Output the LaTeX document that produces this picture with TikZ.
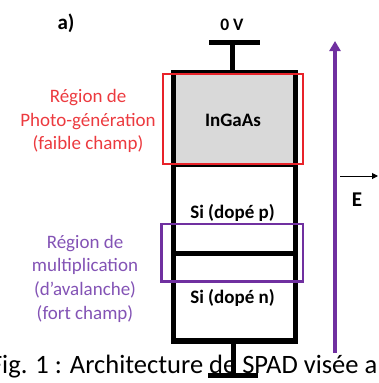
\documentclass[tikz,border=0pt]{standalone}
\usepackage{fontspec}
\setmainfont{Carlito}
\usetikzlibrary{arrows.meta}
\definecolor{spadred}{HTML}{E8232A}
\definecolor{spadredtxt}{HTML}{EC3A3F}
\definecolor{spadpurple}{HTML}{7030A0}
\definecolor{spadpurpletxt}{HTML}{8353B5}
\definecolor{layergray}{HTML}{D9D9D9}
\tikzset{
  wire/.style={line width=5pt, line cap=butt},
  layerbox/.style={line width=5.5pt, line join=miter},
  regionred/.style={draw=spadred, line width=2pt},
  regionpurple/.style={draw=spadpurple, line width=2.5pt},
  lbl/.style={inner sep=0pt, font=\bfseries\fontsize{19}{23}\selectfont},
  redlbl/.style={inner sep=0pt, align=center, text=spadredtxt, font=\fontsize{19}{23.3}\selectfont},
  purplelbl/.style={inner sep=0pt, align=center, text=spadpurpletxt, font=\fontsize{19}{23.7}\selectfont},
}
\begin{document}
\begin{tikzpicture}[x=1pt,y=-1pt]
\useasboundingbox (0,0) rectangle (378,383);
\clip (0,0) rectangle (378,383);
% layers
\fill[layergray] (173.5,72.5) rectangle (295.5,164);
\draw[line width=4pt] (173.5,164.5) -- (295.5,164.5);
\draw[line width=5pt] (173.5,253) -- (295.5,253);
\draw[layerbox] (173.5,72.5) rectangle (295.5,341);
% contacts
\coordinate (topc) at (232.5,72.5);
\coordinate (topbar) at (232.5,42.5);
\coordinate (botc) at (233,341);
\coordinate (botbar) at (233,375);
\draw[wire] (topc) -- (topbar);
\draw[wire] (209,42.5) -- (260,42.5);
\draw[wire] (botc) -- (botbar);
\draw[wire] (208,375) -- (258,375);
% region boxes
\draw[regionred] (163,73.5) rectangle (303,163.5);
\draw[regionpurple] (161.5,224) rectangle (303,281.5);
% field arrow
\coordinate (fbot) at (335,353);
\coordinate (ftop) at (335,41);
\draw[spadpurple, line width=3.5pt, -{Triangle[width=11pt,length=10pt]}] (fbot) -- (ftop);
\coordinate (ea) at (340,176);
\coordinate (eb) at (378,176);
\draw[line width=1pt, -{Triangle[width=6pt,length=6pt]}] (ea) -- (eb);
% texts
\node[inner sep=0pt, font=\bfseries\fontsize{21}{24}\selectfont] (Elbl) at (357,200) {E};
\node[inner sep=0pt, font=\bfseries\fontsize{21}{24}\selectfont] (alabel) at (66,23) {a)};
\node[inner sep=0pt, font=\bfseries\fontsize{17.5}{20}\selectfont] (zerov) at (232,25) {0 V};
\node[lbl] (ingaas) at (233,120) {InGaAs};
\node[lbl] (sip) at (232.5,213) {Si (dopé p)};
\node[lbl] (sin) at (232.5,298) {Si (dopé n)};
\node[redlbl] (redlab) at (88,121) {Région de\\Photo-génération\\(faible champ)};
\node[purplelbl] (purplab) at (85,278.5) {Région de\\multiplication\\(d’avalanche)\\(fort champ)};
\node[inner sep=0pt, anchor=base east, font=\fontsize{26.5}{30}\selectfont] (caption) at (377.5,373) {Fig. 1 : Architecture de SPAD visée a};
\end{tikzpicture}
\end{document}
